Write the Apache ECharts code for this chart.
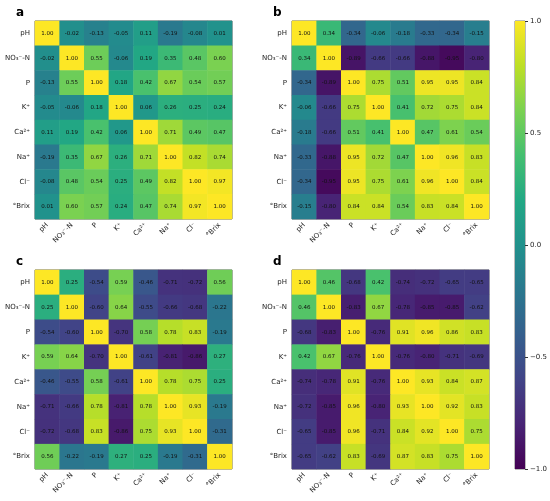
<!DOCTYPE html>
<html>
<head>
<meta charset="utf-8">
<script src="https://cdn.jsdelivr.net/npm/echarts@6/dist/echarts.min.js"></script>
<style>
  html, body { margin: 0; padding: 0; background: #fff; }
  #chart { width: 550px; height: 501px; }
</style>
</head>
<body>
<div id="chart"></div>
<script>
// variables, same order on both axes (pH on top)
const labels = ['pH', 'NO₃⁻-N', 'P', 'K⁺', 'Ca²⁺', 'Na⁺', 'Cl⁻', '°Brix'];

// correlation matrices, row by row as printed in the cells
const matA = [
  [1.00, -0.02, -0.13, -0.05, 0.11, -0.19, -0.08, 0.01],
  [-0.02, 1.00, 0.55, -0.06, 0.19, 0.35, 0.48, 0.60],
  [-0.13, 0.55, 1.00, 0.18, 0.42, 0.67, 0.54, 0.57],
  [-0.05, -0.06, 0.18, 1.00, 0.06, 0.26, 0.25, 0.24],
  [0.11, 0.19, 0.42, 0.06, 1.00, 0.71, 0.49, 0.47],
  [-0.19, 0.35, 0.67, 0.26, 0.71, 1.00, 0.82, 0.74],
  [-0.08, 0.48, 0.54, 0.25, 0.49, 0.82, 1.00, 0.97],
  [0.01, 0.60, 0.57, 0.24, 0.47, 0.74, 0.97, 1.00]
];
const matB = [
  [1.00, 0.34, -0.34, -0.06, -0.18, -0.33, -0.34, -0.15],
  [0.34, 1.00, -0.89, -0.66, -0.66, -0.88, -0.95, -0.80],
  [-0.34, -0.89, 1.00, 0.75, 0.51, 0.95, 0.95, 0.84],
  [-0.06, -0.66, 0.75, 1.00, 0.41, 0.72, 0.75, 0.84],
  [-0.18, -0.66, 0.51, 0.41, 1.00, 0.47, 0.61, 0.54],
  [-0.33, -0.88, 0.95, 0.72, 0.47, 1.00, 0.96, 0.83],
  [-0.34, -0.95, 0.95, 0.75, 0.61, 0.96, 1.00, 0.84],
  [-0.15, -0.80, 0.84, 0.84, 0.54, 0.83, 0.84, 1.00]
];
const matC = [
  [1.00, 0.25, -0.54, 0.59, -0.46, -0.71, -0.72, 0.56],
  [0.25, 1.00, -0.60, 0.64, -0.55, -0.66, -0.68, -0.22],
  [-0.54, -0.60, 1.00, -0.70, 0.58, 0.78, 0.83, -0.19],
  [0.59, 0.64, -0.70, 1.00, -0.61, -0.81, -0.86, 0.27],
  [-0.46, -0.55, 0.58, -0.61, 1.00, 0.78, 0.75, 0.25],
  [-0.71, -0.66, 0.78, -0.81, 0.78, 1.00, 0.93, -0.19],
  [-0.72, -0.68, 0.83, -0.86, 0.75, 0.93, 1.00, -0.31],
  [0.56, -0.22, -0.19, 0.27, 0.25, -0.19, -0.31, 1.00]
];
const matD = [
  [1.00, 0.46, -0.68, 0.42, -0.74, -0.72, -0.65, -0.65],
  [0.46, 1.00, -0.83, 0.67, -0.78, -0.85, -0.85, -0.62],
  [-0.68, -0.83, 1.00, -0.76, 0.91, 0.96, 0.86, 0.83],
  [0.42, 0.67, -0.76, 1.00, -0.76, -0.80, -0.71, -0.69],
  [-0.74, -0.78, 0.91, -0.76, 1.00, 0.93, 0.84, 0.87],
  [-0.72, -0.85, 0.96, -0.80, 0.93, 1.00, 0.92, 0.83],
  [-0.65, -0.85, 0.96, -0.71, 0.84, 0.92, 1.00, 0.75],
  [-0.65, -0.62, 0.83, -0.69, 0.87, 0.83, 0.75, 1.00]
];
const panels = ['a', 'b', 'c', 'd'];
const colorbarTicks = [-1.0, -0.5, 0.0, 0.5, 1.0];

const viridis = ['#440154', '#482475', '#414487', '#355f8d', '#2a788e', '#21918c',
  '#22a884', '#44bf70', '#7ad151', '#bddf26', '#fde725'];

const mats = [matA, matB, matC, matD];
const boxes = [
  { left: 35, top: 21, width: 197, height: 198 },
  { left: 292, top: 21, width: 197, height: 198 },
  { left: 35, top: 270, width: 197, height: 199 },
  { left: 292, top: 270, width: 197, height: 199 }
];
const font = 'DejaVu Sans';

function toCells(mat) {
  const out = [];
  mat.forEach((row, i) => row.forEach((v, j) => out.push([j, i, v])));
  return out;
}

const grid = boxes.map(b => ({
  ...b, show: true, borderColor: '#333', borderWidth: 0.8,
  backgroundColor: 'transparent', containLabel: false
}));
grid.push({ left: 515, top: 21, width: 11, height: 448, show: true,
  borderColor: '#555', borderWidth: 0.8, backgroundColor: 'transparent' });

const xAxis = boxes.map((_, k) => ({
  type: 'category', gridIndex: k, data: labels,
  axisLine: { show: false },
  axisTick: { alignWithLabel: true, length: 3, lineStyle: { color: '#333' } },
  axisLabel: { rotate: 45, fontSize: 7, color: '#222', fontFamily: font, margin: 5, interval: 0 },
  splitLine: { show: false }
}));
xAxis.push({ type: 'category', gridIndex: 4, data: [''], show: false });

const yAxis = boxes.map((_, k) => ({
  type: 'category', gridIndex: k, data: labels, inverse: true,
  axisLine: { show: false },
  axisTick: { alignWithLabel: true, length: 3, lineStyle: { color: '#333' } },
  axisLabel: { fontSize: 7, color: '#222', fontFamily: font, margin: 5, interval: 0 },
  splitLine: { show: false }
}));
yAxis.push({
  type: 'value', gridIndex: 4, position: 'right', min: -1, max: 1, interval: 0.5,
  axisLine: { show: false },
  axisTick: { show: true, length: 3, lineStyle: { color: '#333' } },
  axisLabel: { fontSize: 7, color: '#222', fontFamily: font, margin: 5,
    formatter: v => (v < 0 ? '\u2212' + Math.abs(v).toFixed(1) : v.toFixed(1)) },
  splitLine: { show: false }
});

const series = mats.map((m, k) => ({
  type: 'heatmap', xAxisIndex: k, yAxisIndex: k, data: toCells(m),
  label: { show: true, fontSize: 5.5, color: '#111', fontFamily: font,
    formatter: p => p.value[2].toFixed(2) },
  itemStyle: { borderWidth: 0 },
  emphasis: { disabled: true }
}));

// colorbar drawn through the colorbar axis
series.push({
  type: 'custom', xAxisIndex: 4, yAxisIndex: 4, data: [[0, colorbarTicks[0], colorbarTicks[colorbarTicks.length - 1]]],
  silent: true,
  renderItem: (params, api) => {
    const lo = api.coord([0, api.value(1)]);
    const hi = api.coord([0, api.value(2)]);
    const w = params.coordSys.width;
    return {
      type: 'rect',
      shape: { x: params.coordSys.x, y: hi[1], width: w, height: lo[1] - hi[1] },
      style: {
        fill: new echarts.graphic.LinearGradient(0, 1, 0, 0,
          viridis.map((c, i) => ({ offset: i / (viridis.length - 1), color: c })))
      }
    };
  }
});

const titles = panels.map((p, k) => ({
  text: p, left: boxes[k].left - 24, top: boxes[k].top - 19,
  textStyle: { fontSize: 12, fontWeight: 'bold', color: '#000', fontFamily: font }
}));

const chart = echarts.init(document.getElementById('chart'), null, { renderer: 'canvas' });
chart.setOption({
  animation: false,
  backgroundColor: '#fff',
  title: titles,
  grid, xAxis, yAxis, series,
  visualMap: {
    show: false, min: -1, max: 1, seriesIndex: [0, 1, 2, 3],
    inRange: { color: viridis }
  }
});
</script>
</body>
</html>
